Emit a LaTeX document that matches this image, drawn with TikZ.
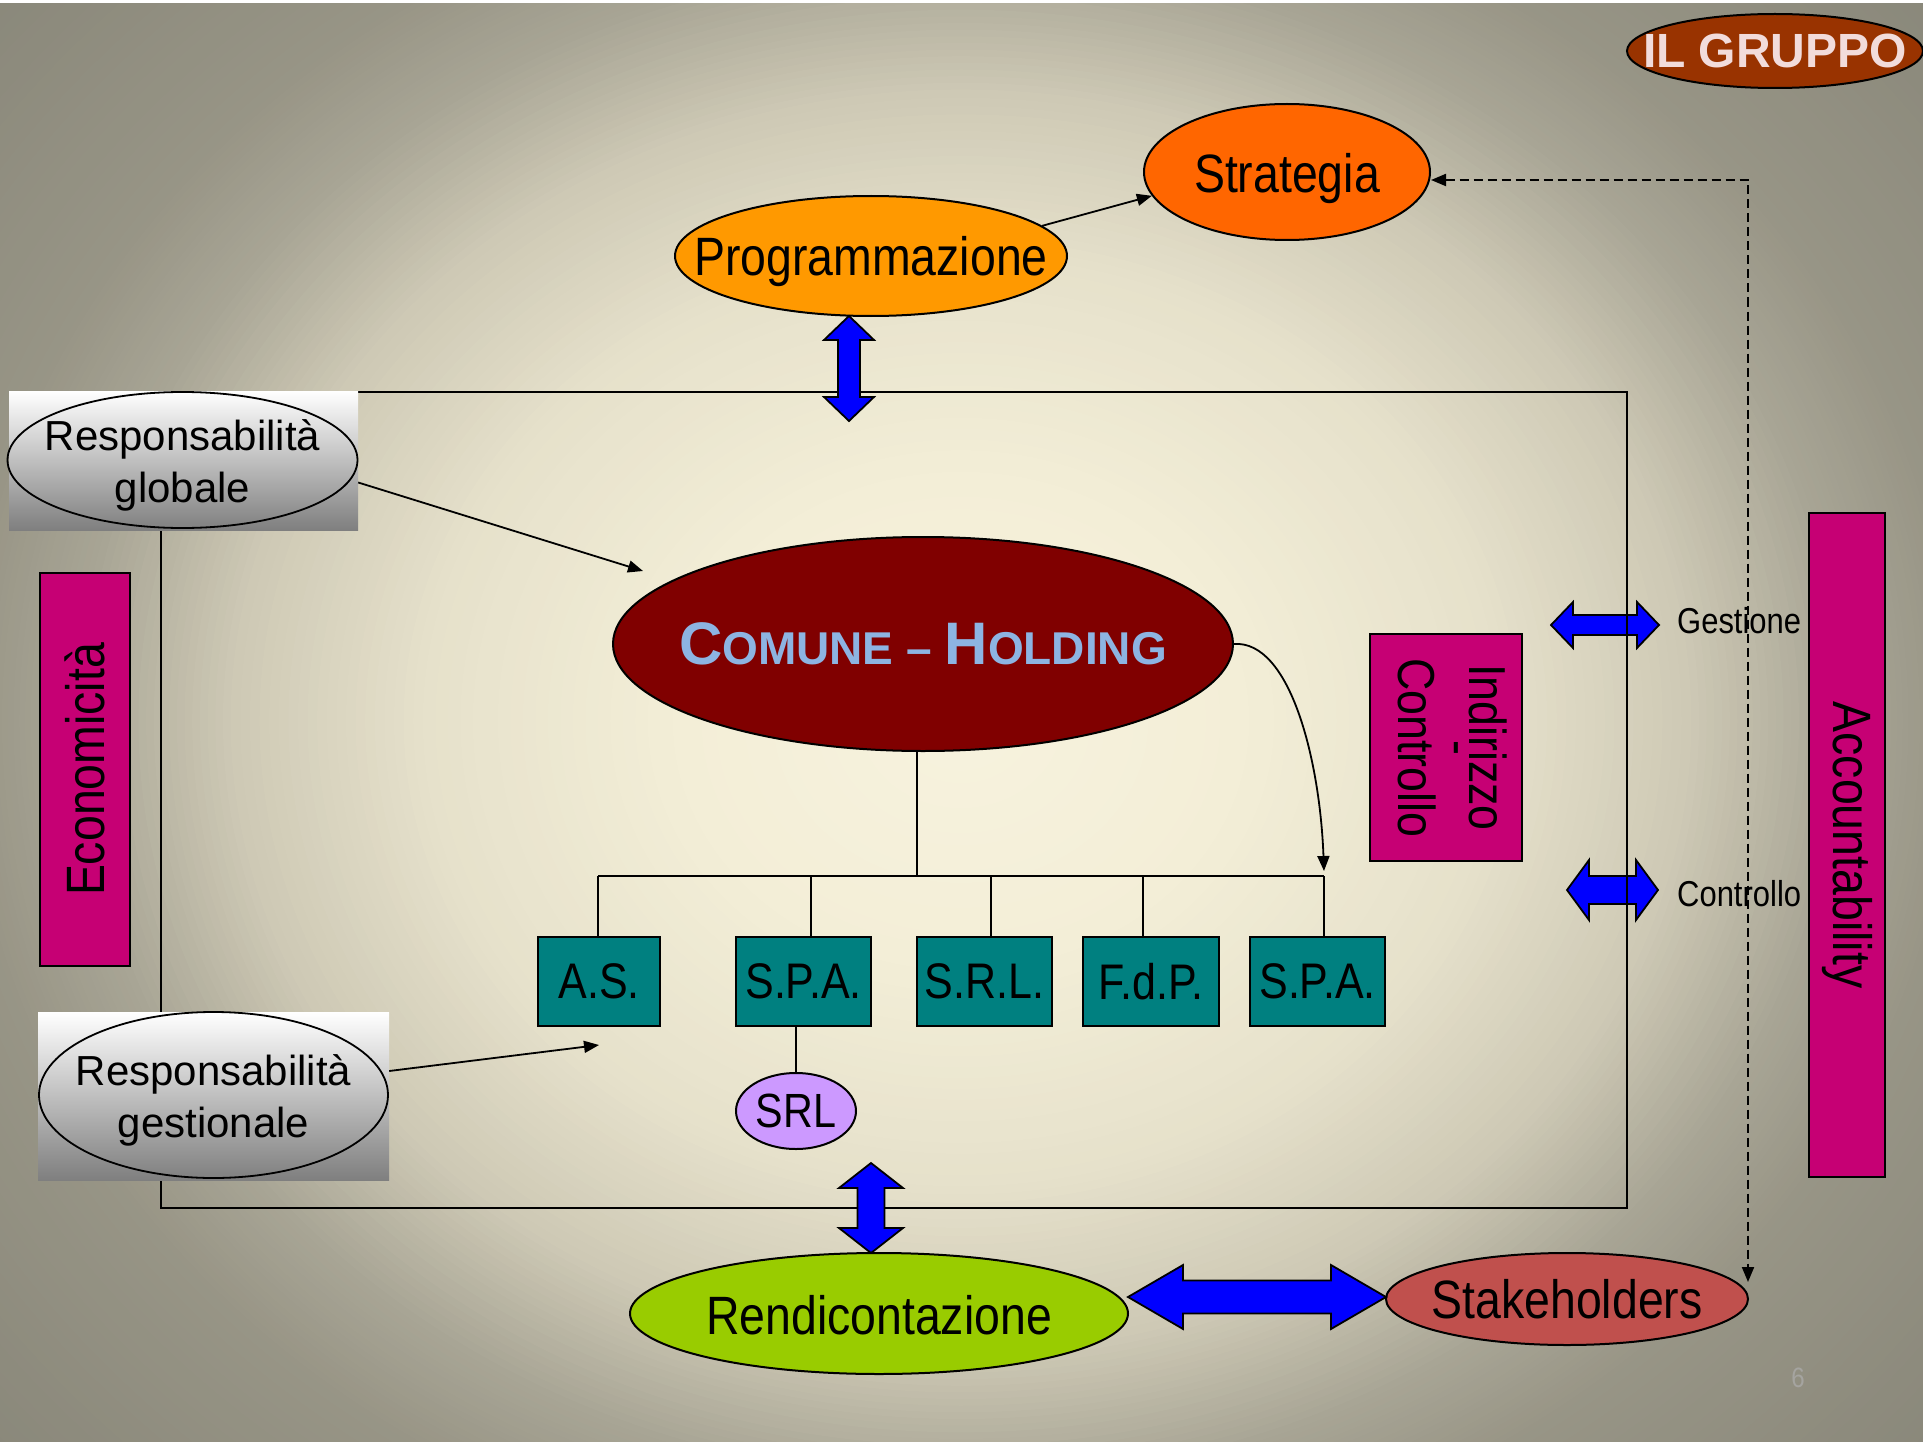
\documentclass[tikz,border=0pt]{standalone}
\usepackage{fontspec}
\setmainfont{Liberation Sans}
\newfontfamily\nf[FakeStretch=0.86]{Liberation Sans}
\usetikzlibrary{shapes.geometric,arrows.meta,calc}
\definecolor{ilgc}{HTML}{993300}
\definecolor{ilgt}{HTML}{F2DCDB}
\definecolor{stratc}{HTML}{FF6600}
\definecolor{progc}{HTML}{FF9900}
\definecolor{comc}{HTML}{800000}
\definecolor{comt}{HTML}{8DB4E2}
\definecolor{tealc}{HTML}{008080}
\definecolor{srlc}{HTML}{CC99FF}
\definecolor{magc}{RGB}{198,0,116}
\definecolor{rendc}{HTML}{99CC00}
\definecolor{stakc}{HTML}{C0504D}
\definecolor{fatc}{HTML}{0000FF}
\definecolor{respbot}{HTML}{7F7F7F}
\definecolor{bgA}{RGB}{247,243,222}
\definecolor{bgB}{RGB}{243,238,215}
\definecolor{bgC}{RGB}{230,225,203}
\definecolor{bgD}{RGB}{206,201,181}
\definecolor{bgE}{RGB}{168,165,149}
\definecolor{bgF}{RGB}{152,149,134}
\definecolor{bgG}{RGB}{142,140,126}
\definecolor{bgH}{RGB}{134,132,119}
\definecolor{pgnum}{RGB}{165,164,160}
\newcommand\vfat[6]{%
 \filldraw[fat] (#1,#2) -- ({#1+#5},{#2+#6}) -- ({#1+#4},{#2+#6}) -- ({#1+#4},{#3-#6}) -- ({#1+#5},{#3-#6}) -- (#1,#3) -- ({#1-#5},{#3-#6}) -- ({#1-#4},{#3-#6}) -- ({#1-#4},{#2+#6}) -- ({#1-#5},{#2+#6}) -- cycle;}
\newcommand\hfat[6]{%
 \filldraw[fat] (#2,#1) -- ({#2+#6},{#1-#5}) -- ({#2+#6},{#1-#4}) -- ({#3-#6},{#1-#4}) -- ({#3-#6},{#1-#5}) -- (#3,#1) -- ({#3-#6},{#1+#5}) -- ({#3-#6},{#1+#4}) -- ({#2+#6},{#1+#4}) -- ({#2+#6},{#1+#5}) -- cycle;}
\tikzset{
 lbl/.style={font=\nf\fontsize{54}{60}\selectfont},
 oval/.style={ellipse, draw=black, line width=2pt, inner sep=0pt},
 magbox/.style={rectangle, draw=black, line width=2pt, fill=magc, inner sep=0pt},
 tealbox/.style={rectangle, draw=black, line width=2pt, fill=tealc, inner sep=0pt, minimum height=89pt, font=\nf\fontsize{50}{56}\selectfont},
 respbox/.style={rectangle, inner sep=0pt, top color=white, bottom color=respbot},
 respoval/.style={ellipse, draw=black, line width=1.8pt, inner sep=0pt},
 resptext/.style={align=center, font=\fontsize{42}{52}\selectfont, yshift=-5pt},
 thinline/.style={line width=1.8pt},
 arr/.style={line width=1.8pt, -{Triangle[length=15pt,width=12pt]}},
 frm/.style={rectangle, draw=black, line width=2.4pt, inner sep=0pt},
 fat/.style={fill=fatc, draw=black, line width=1.8pt},
 dsh/.style={line width=2pt, dash pattern=on 9pt off 5pt, {Triangle[length=15pt,width=12pt]}-{Triangle[length=15pt,width=12pt]}},
 side/.style={font=\nf\fontsize{36}{40}\selectfont, anchor=west, inner sep=0pt},
 vtxt/.style={rotate=-90, inner sep=0pt, font=\nf\fontsize{52}{56}\selectfont}
}
\begin{document}
\begin{tikzpicture}[x=1pt,y=-1pt]
\useasboundingbox (0,0) rectangle (1923,1442);
% background: stepped radial gradient
\begin{scope}
\clip (0,0) rectangle (1923,1442);
\foreach \ro/\co/\ri/\ci in {72/bgH/62/bgG, 62/bgG/52/bgF, 52/bgF/46/bgE, 46/bgE/38/bgD, 38/bgD/28/bgC, 28/bgC/15/bgB, 15/bgB/0/bgA}{
  \foreach \k in {0,...,19}{
    \pgfmathsetmacro\rr{\ro-(\ro-\ri)*\k/20}
    \pgfmathtruncatemacro\pp{100-\k*5}
    \fill[\co!\pp!\ci] (961,721) ellipse [x radius={\rr*19.22}, y radius={\rr*16.62}];
  }
}
\end{scope}
\fill[white] (0,0) rectangle (1923,3);

% side double arrows (under the frame line)
\hfat{625}{1551}{1659}{10}{23}{22}
\hfat{890}{1567}{1658}{14}{30}{22}

% frame
\node[frm, minimum width=1466pt, minimum height=816pt] (frame) at (894,800) {};

% top ellipses
\node[oval, fill=ilgc, minimum width=296pt, minimum height=74pt,
  label={[text=ilgt, font=\bfseries\fontsize{48}{50}\selectfont]center:IL GRUPPO}] (ilg) at (1775,51) {};
\node[oval, fill=stratc, minimum width=286pt, minimum height=136pt,
  label={[lbl, yshift=-7pt]center:Strategia}] (strat) at (1287,172) {};
\node[oval, fill=progc, minimum width=392pt, minimum height=120pt,
  label={[lbl, yshift=-6pt]center:Programmazione}] (prog) at (871,256) {};
\draw[arr] (prog.10) -- (strat.190);

% vertical fat arrows
\vfat{849}{316}{421}{11}{25}{24}
\vfat{871}{1163}{1253}{13.5}{32}{25}

% responsabilita boxes
\node[respbox, minimum width=349pt, minimum height=139pt] (rglob) at (183.5,460.5) {};
\node[respoval, minimum width=350pt, minimum height=136pt,
  label={[resptext]center:Responsabilità\\globale}] (rglobo) at (182.5,460) {};
\node[respbox, minimum width=351pt, minimum height=168pt] (rgest) at (213.5,1096) {};
\node[respoval, minimum width=349pt, minimum height=166pt,
  label={[resptext]center:Responsabilità\\gestionale}] (rgesto) at (213.5,1095) {};

% magenta boxes
\node[magbox, minimum width=90pt, minimum height=393pt,
  label={[rotate=90, lbl]center:Economicità}] (econ) at (85,769.5) {};
\node[magbox, minimum width=76pt, minimum height=664pt,
  label={[rotate=-90, lbl]center:Accountability}] (acc) at (1847,845) {};
\node[magbox, minimum width=152pt, minimum height=227pt] (indir) at (1446,747.5) {};
\node[vtxt] (ind1) at ([xshift=42pt]indir.center) {Indirizzo};
\node[vtxt] (ind2) at ([xshift=4pt]indir.center) {-};
\node[vtxt] (ind3) at ([xshift=-29pt]indir.center) {Controllo};

% comune holding
\node[oval, fill=comc, minimum width=620pt, minimum height=214pt,
  label={[text=comt, font=\bfseries]center:{\fontsize{60}{60}\selectfont C}{\fontsize{46}{46}\selectfont OMUNE -- }{\fontsize{60}{60}\selectfont H}{\fontsize{46}{46}\selectfont OLDING}}] (comune) at (923,644) {};

% companies
\node[tealbox, minimum width=122pt] (as) at (599,981.5) {A.S.};
\node[tealbox, minimum width=135pt] (spa1) at (803.5,981.5) {S.P.A.};
\node[tealbox, minimum width=135pt] (srl) at (984.5,981.5) {S.R.L.};
\node[tealbox, minimum width=136pt] (fdp) at (1151,981.5) {F.d.P.};
\node[tealbox, minimum width=135pt] (spa2) at (1317.5,981.5) {S.P.A.};
\node[oval, fill=srlc, minimum width=120pt, minimum height=76pt] (srlc) at (796,1111) {};
\node[font=\nf\fontsize{48}{50}\selectfont] (srltxt) at (srlc.center) {SRL};

% tree
\coordinate (bus) at (917,876);
\coordinate (d1) at (598,876);
\coordinate (d2) at (811,876);
\coordinate (d3) at (991,876);
\coordinate (d4) at (1143,876);
\coordinate (d5) at (1324,876);
\draw[thinline] (comune.south -| bus) -- (bus);
\draw[thinline] (d1) -- (d5);
\draw[thinline] (d1) -- (as.north -| d1);
\draw[thinline] (d2) -- (spa1.north -| d2);
\draw[thinline] (d3) -- (srl.north -| d3);
\draw[thinline] (d4) -- (fdp.north -| d4);
\draw[thinline] (d5) -- (spa2.north -| d5);
\draw[thinline] (spa1.south -| srlc.north) -- (srlc.north);
\coordinate (cend) at (1324,871);
\draw[arr] (comune.east) .. controls (1290,640) and (1320,760) .. (cend);

% arrows from responsabilita
\coordinate (gend) at (643,571);
\draw[arr] ([yshift=-22pt]rglob.east) -- (gend);
\draw[arr] ([yshift=25pt]rgest.east) -- ([yshift=-18pt]as.south);

% bottom ellipses
\node[oval, fill=rendc, minimum width=498pt, minimum height=121pt,
  label={[lbl, yshift=-2pt]center:Rendicontazione}] (rend) at (879,1313.5) {};
\node[oval, fill=stakc, minimum width=362pt, minimum height=92pt,
  label={[lbl]center:Stakeholders}] (stake) at (1567,1299) {};
\hfat{1297}{1128}{1386}{16.5}{32}{55}

% side labels
\node[side] (gest) at (1677,621) {Gestione};
\node[side] (contr) at (1677,894) {Controllo};

% dashed feedback
\coordinate (dtop) at (1748,180);
\coordinate (dend) at (1748,1282);
\draw[dsh] (strat.east |- dtop) -- (dtop) -- (dend);

% page number
\node[text=pgnum, font=\nf\fontsize{28}{30}\selectfont] (pg) at (1798,1378) {6};
\end{tikzpicture}
\end{document}
